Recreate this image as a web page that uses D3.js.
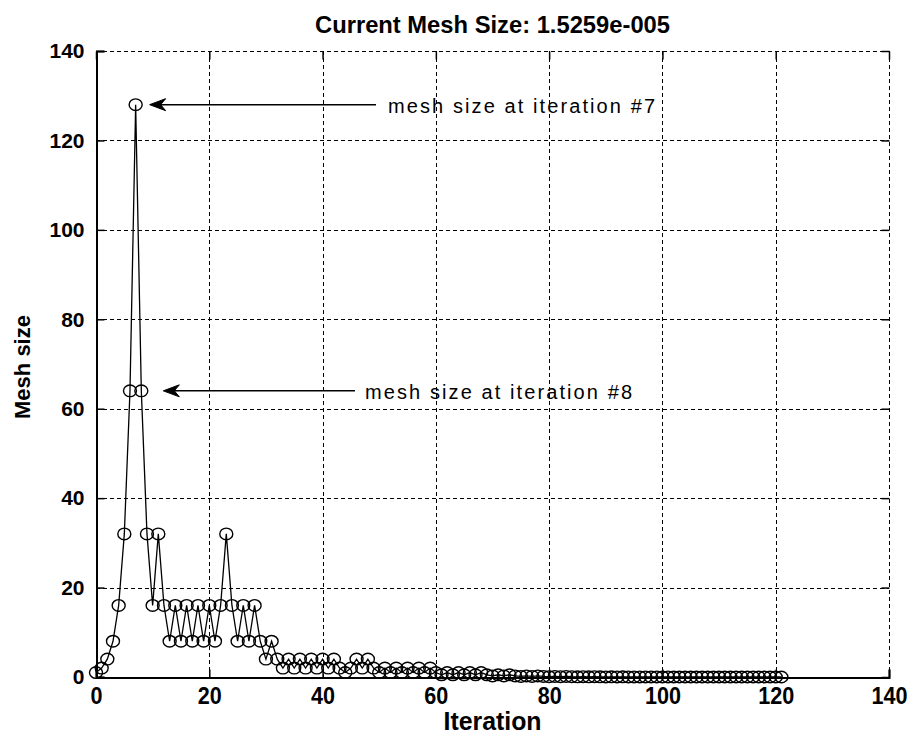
<!DOCTYPE html>
<html>
<head>
<meta charset="utf-8">
<script src="https://cdn.jsdelivr.net/npm/d3@7"></script>
<style>
  html, body { margin: 0; padding: 0; background: #fff; }
  svg { display: block; }
</style>
</head>
<body>
<script>
// ---------------- data ----------------
const titleText = "Current Mesh Size: 1.5259e-005";
const xLabel = "Iteration";
const yLabel = "Mesh size";
const xTicks = [0, 20, 40, 60, 80, 100, 120, 140];
const yTicks = [0, 20, 40, 60, 80, 100, 120, 140];
const meshSize = [
  1, 2, 4, 8, 16, 32, 64, 128, 64, 32, 16,
  32, 16, 8, 16, 8, 16, 8, 16, 8, 16, 8, 16,
  32, 16, 8, 16, 8, 16, 8, 4, 8,
  4, 2, 4, 2, 4, 2, 4, 2, 4, 2, 4, 2,
  1, 2, 4, 2, 4, 2,
  1, 2, 1, 2, 1, 2, 1, 2, 1, 2, 1,
  0.5, 1, 0.5, 1, 0.5, 1, 0.5, 1, 0.5,
  0.25, 0.5, 0.25, 0.5, 0.25, 0.125, 0.25, 0.125, 0.25, 0.125,
  0.0625, 0.125, 0.0625, 0.125, 0.0625, 0.03125, 0.0625, 0.03125, 0.0625, 0.03125,
  0.015625, 0.03125, 0.015625, 0.03125, 0.015625, 0.0078125, 0.015625, 0.0078125, 0.015625, 0.0078125,
  0.00390625, 0.0078125, 0.00390625, 0.001953125, 0.00390625, 0.001953125, 0.0009765625, 0.001953125, 0.0009765625, 0.00048828125,
  0.0009765625, 0.00048828125, 0.000244140625, 0.00048828125, 0.000244140625, 0.0001220703125,
  0.000244140625, 0.0001220703125, 0.00006103515625, 0.0001220703125, 0.00006103515625, 0.0000152587890625
];
const annotations = [
  { text: "mesh size at iteration #7", iter: 7, value: 128 },
  { text: "mesh size at iteration #8", iter: 8, value: 64 }
];

// ---------------- layout ----------------
const W = 909, H = 738;
const L = 96, R = 889, T = 51, B = 677;
const SANS = "'Liberation Sans', Arial, sans-serif";

const svg = d3.select("body").append("svg").attr("width", W).attr("height", H);

const x = d3.scaleLinear().domain([0, 140]).range([L, R]);
const y = d3.scaleLinear().domain([0, 140]).range([B, T]);

// grid
const grid = svg.append("g").attr("stroke", "#000").attr("stroke-width", 1)
  .attr("stroke-dasharray", "4,3").attr("shape-rendering", "crispEdges");
xTicks.slice(1, -1).forEach(t => {
  grid.append("line").attr("x1", Math.round(x(t)) + 0.5).attr("x2", Math.round(x(t)) + 0.5)
    .attr("y1", T).attr("y2", B);
});
yTicks.slice(1, -1).forEach(t => {
  grid.append("line").attr("y1", Math.round(y(t)) + 0.5).attr("y2", Math.round(y(t)) + 0.5)
    .attr("x1", L).attr("x2", R);
});
grid.append("line").attr("x1", L).attr("x2", R).attr("y1", T + 0.5).attr("y2", T + 0.5);
grid.append("line").attr("x1", R + 0.5).attr("x2", R + 0.5).attr("y1", T).attr("y2", B);

// axes (ticks inward)
const xAxis = d3.axisBottom(x).tickValues(xTicks).tickSize(-8).tickFormat(d3.format("d"));
const yAxis = d3.axisLeft(y).tickValues(yTicks).tickSize(-8).tickFormat(d3.format("d"));
const xTop = d3.axisTop(x).tickValues(xTicks).tickSize(-8).tickFormat("");
const yRight = d3.axisRight(y).tickValues(yTicks).tickSize(-8).tickFormat("");

const gx = svg.append("g").attr("transform", `translate(0,${B + 0.5})`).call(xAxis);
const gy = svg.append("g").attr("transform", `translate(${L + 0.5},0)`).call(yAxis);
svg.append("g").attr("transform", `translate(0,${T + 0.5})`).call(xTop).select(".domain").remove();
svg.append("g").attr("transform", `translate(${R + 0.5},0)`).call(yRight).select(".domain").remove();

svg.selectAll(".tick line").attr("stroke", "#000").attr("stroke-width", 1.5);
[gx, gy].forEach(g => {
  g.select(".domain").attr("stroke", "#000").attr("stroke-width", 2);
  g.selectAll("text").attr("fill", "#000").attr("font-family", SANS).attr("font-weight", "bold");
});
gx.selectAll("text").attr("font-size", 23).attr("y", 10).attr("dy", "0.71em")
  .attr("textLength", d => String(d).length * 12).attr("lengthAdjust", "spacingAndGlyphs");
gy.selectAll("text").attr("font-size", 21).attr("x", -12);

// line + markers
const pts = meshSize.map((v, i) => ({ i, v }));
svg.append("path").datum(pts)
  .attr("fill", "none").attr("stroke", "#000").attr("stroke-width", 1.3)
  .attr("d", d3.line().x(d => x(d.i)).y(d => y(d.v)));
svg.append("g").selectAll("ellipse").data(pts).join("ellipse")
  .attr("cx", d => x(d.i)).attr("cy", d => y(d.v))
  .attr("rx", 6.5).attr("ry", 5.8)
  .attr("fill", "none").attr("stroke", "#000").attr("stroke-width", 1.4);

// annotations with arrows
const textStartX = [388, 365];
const arrowStartX = [376, 355];
annotations.forEach((a, k) => {
  const yy = y(a.value);
  const tipX = x(a.iter) + (k === 0 ? 14 : 22);
  svg.append("line").attr("x1", arrowStartX[k]).attr("x2", tipX + 10)
    .attr("y1", yy).attr("y2", yy).attr("stroke", "#000").attr("stroke-width", 1.5);
  svg.append("path")
    .attr("d", `M${tipX},${yy} L${tipX + 16},${yy - 6} L${tipX + 11},${yy} L${tipX + 16},${yy + 6} Z`)
    .attr("fill", "#000").attr("stroke", "#000").attr("stroke-width", 1);
  svg.append("text").attr("x", textStartX[k]).attr("y", yy + 8)
    .attr("font-family", SANS).attr("font-size", 20)
    .attr("textLength", 267).attr("lengthAdjust", "spacing")
    .attr("fill", "#000").text(a.text);
});

// title and labels
svg.append("text").attr("x", (L + R) / 2).attr("y", 33).attr("text-anchor", "middle")
  .attr("font-family", SANS).attr("font-weight", "bold").attr("font-size", 24)
  .attr("textLength", 355).attr("lengthAdjust", "spacingAndGlyphs")
  .attr("fill", "#000").text(titleText);
svg.append("text").attr("x", (L + R) / 2).attr("y", 730).attr("text-anchor", "middle")
  .attr("font-family", SANS).attr("font-weight", "bold").attr("font-size", 25)
  .attr("textLength", 98).attr("lengthAdjust", "spacingAndGlyphs")
  .attr("fill", "#000").text(xLabel);
svg.append("text").attr("transform", `translate(30,${(T + B) / 2 + 3}) rotate(-90)`).attr("text-anchor", "middle")
  .attr("font-family", SANS).attr("font-weight", "bold").attr("font-size", 22)
  .attr("fill", "#000").text(yLabel);
</script>
</body>
</html>
